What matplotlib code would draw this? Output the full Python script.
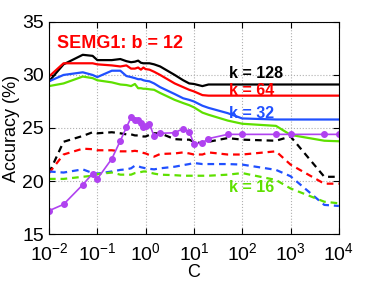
import matplotlib
matplotlib.use('Agg')
import matplotlib.pyplot as plt

plt.rcParams['font.family'] = ['Liberation Sans', 'DejaVu Sans']

C = [0.01, 0.02, 0.05, 0.08, 0.1, 0.2, 0.3, 0.4, 0.5, 0.6, 0.7, 0.8, 0.9, 1,
     1.2, 1.5, 2, 4, 6, 8, 10, 15, 20, 50, 100, 500, 1000, 5000, 10000]

# solid lines (one per k)
k128 = [29.4, 31.0, 31.9, 31.8, 31.4, 31.4, 31.5, 31.3, 31.2, 31.25, 31.35, 31.15, 31.1, 31.1,
        31.1, 31.0, 30.8, 30.0, 29.5, 29.2, 29.15, 28.95, 29.1, 29.1, 29.1, 29.1, 29.1, 29.1, 29.1]
k64 = [29.85, 31.1, 31.1, 31.1, 31.0, 30.9, 30.8, 30.9, 30.6, 30.6, 30.7, 30.5, 30.7, 30.55,
       30.5, 30.3, 30.0, 29.2, 28.85, 28.6, 28.45, 28.1, 28.05, 28.05, 28.05, 28.05, 28.05, 28.05, 28.05]
k32 = [29.4, 30.0, 30.25, 30.0, 29.8, 30.4, 30.4, 29.9, 29.8, 29.7, 29.6, 29.6, 29.5, 29.45,
       29.4, 29.2, 28.85, 28.2, 27.8, 27.65, 27.5, 27.1, 26.9, 26.4, 25.9, 25.8, 25.8, 25.8, 25.8]
k16 = [28.95, 29.2, 29.85, 29.7, 29.5, 29.3, 29.1, 29.05, 28.95, 29.15, 28.75, 28.75, 28.7, 28.7,
       28.65, 28.6, 28.3, 27.65, 27.35, 27.15, 26.95, 26.45, 26.25, 25.7, 25.4, 25.2, 24.35, 23.8, 23.75]

# dashed lines
k128d = [20.75, 23.7, 24.25, 24.6, 24.5, 24.6, 24.5, 24.4, 24.4, 24.3, 24.3, 24.25, 24.2, 24.2,
         24.35, 24.5, 24.5, 23.95, 23.9, 23.9, 23.7, 23.55, 23.7, 24.05, 23.9, 23.8, 24.2, 20.4, 20.4]
k64d = [20.75, 22.5, 23.05, 23.0, 22.9, 22.9, 22.8, 22.8, 22.8, 22.85, 22.8, 22.7, 22.65, 22.6,
        22.45, 22.3, 22.55, 22.6, 22.7, 22.6, 22.5, 22.5, 22.7, 22.5, 22.5, 22.8, 21.55, 19.75, 19.75]
k32d = [20.9, 20.8, 21.1, 20.75, 20.7, 20.9, 21.05, 21.1, 21.2, 21.45, 21.4, 21.3, 21.25, 21.2,
        21.15, 21.1, 21.2, 21.35, 21.5, 21.6, 21.7, 21.6, 21.6, 21.6, 21.55, 21.05, 20.45, 17.75, 17.65]
k16d = [20.2, 20.2, 20.4, 20.5, 20.65, 20.8, 20.6, 20.6, 20.6, 20.75, 20.8, 20.85, 20.9, 20.9,
        20.8, 20.7, 20.6, 20.55, 20.5, 20.5, 20.5, 20.5, 20.5, 20.6, 20.75, 20.1, 19.3, 18.05, 17.9]

# purple line with markers
other = [17.2, 17.8, 19.65, 20.7, 20.2, 22.1, 23.8, 25.05, 26.0, 25.77, 25.75, 25.45, 25.1, 25.2,
         25.4, 24.2, 24.5, 24.55, 24.95, 24.65, 23.5, 23.6, 24.0, 24.4, 24.4, 24.4, 24.4, 24.4, 24.4]

black = 'black'
red = '#ff0000'
blue = '#2050ff'
green = '#5ee000'
purple = '#b042f0'

fig = plt.figure(figsize=(3.74, 2.81), dpi=100)
ax = fig.add_axes([0.131, 0.167, 0.775, 0.755])

lw = 1.6
ax.plot(C, k128, color=black, lw=lw)
ax.plot(C, k64, color=red, lw=lw)
ax.plot(C, k32, color=blue, lw=lw)
ax.plot(C, k16, color=green, lw=lw)
ax.plot(C, k128d, color=black, lw=lw, dashes=(3, 2.2))
ax.plot(C, k64d, color=red, lw=lw, dashes=(3, 2.2))
ax.plot(C, k32d, color=blue, lw=lw, dashes=(3, 2.2))
ax.plot(C, k16d, color=green, lw=lw, dashes=(3, 2.2))
ax.plot(C, other, color=purple, lw=1.2, marker='o', markersize=4, markeredgecolor=purple)

ax.set_xscale('log')
ax.set_xlim(0.01, 10000)
ax.set_ylim(15, 35)
ax.set_yticks([15, 20, 25, 30, 35])
ax.set_xticks([1e-2, 1e-1, 1e0, 1e1, 1e2, 1e3, 1e4])
ax.grid(True, which='major', linestyle=':', color='#b0b0b0', lw=0.8)
ax.tick_params(which='both', direction='in', top=True, right=True, labelsize=14)
ax.tick_params(axis='x', pad=6)
ax.tick_params(which='major', length=4)
ax.tick_params(which='minor', length=2)
ax.set_xlabel('C', fontsize=13, labelpad=0)
ax.set_ylabel('Accuracy (%)', fontsize=13, labelpad=2)

ax.text(0.0145, 33.0, 'SEMG1: b = 12', color=red, fontsize=13, fontweight='bold',
        va='center', ha='left')
ax.text(52, 30.1, 'k = 128', color=black, fontsize=11.5, fontweight='bold', va='center')
ax.text(52, 28.5, 'k = 64', color=red, fontsize=11.5, fontweight='bold', va='center')
ax.text(52, 26.4, 'k = 32', color=blue, fontsize=11.5, fontweight='bold', va='center')
ax.text(52, 19.4, 'k = 16', color=green, fontsize=11.5, fontweight='bold', va='center')

fig.savefig('out.png', dpi=100)
